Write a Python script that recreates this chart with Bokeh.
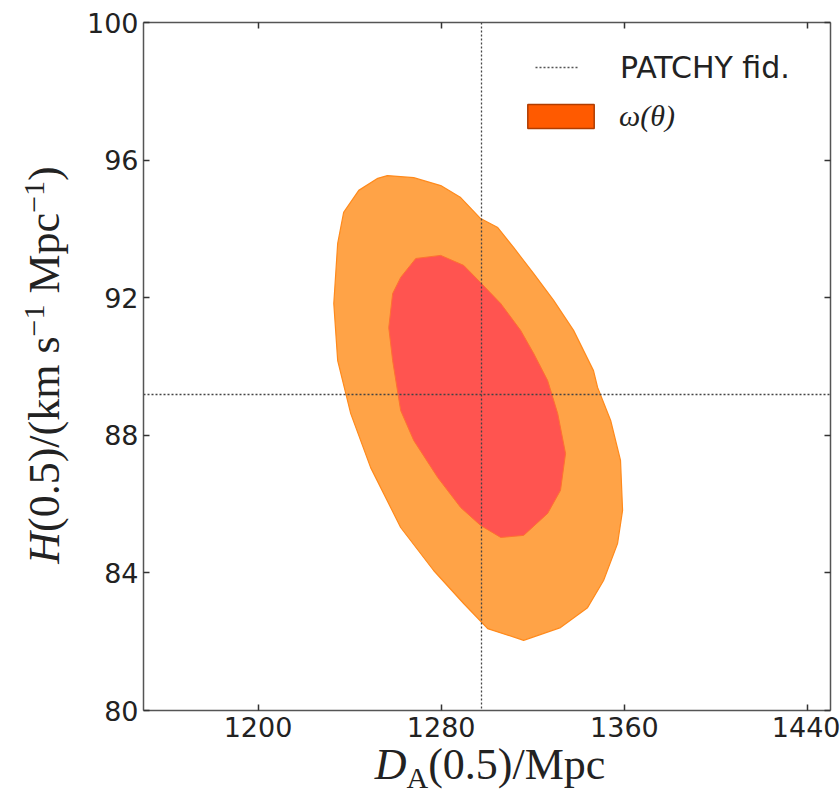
import math
from bokeh.plotting import figure
from bokeh.layouts import row, column
from bokeh.models import (Range1d, LinearAxis, FixedTicker, CustomJSTickFormatter,
                          Legend, LegendItem, Div)
from bokeh.embed import file_html
from bokeh.resources import INLINE

# ---------------- data ----------------
x_ticks = [1200, 1280, 1360, 1440]
y_ticks = [80, 84, 88, 92, 96, 100]

fid_DA = 1297.6
fid_H = 89.18

outer_DA = [1256.5, 1268.0, 1279.8, 1288.5, 1297.2, 1304.7, 1311.6, 1320.4, 1329.1, 1337.8,
            1346.5, 1348.3, 1354.0, 1358.3, 1359.2, 1357.0, 1350.9, 1343.9, 1332.1, 1316.0,
            1300.3, 1289.8, 1276.7, 1262.3, 1249.2, 1240.5, 1234.8, 1233.1, 1234.8, 1237.4,
            1244.0, 1252.3]
outer_H = [95.55, 95.49, 95.26, 94.91, 94.30, 94.04, 93.46, 92.70, 91.92, 91.05,
           89.88, 89.39, 88.43, 87.27, 85.82, 84.85, 83.78, 82.99, 82.41, 82.04,
           82.38, 83.11, 84.07, 85.32, 87.06, 88.63, 90.17, 91.83, 93.58, 94.48,
           95.12, 95.47]

inner_DA = [1268.9, 1279.8, 1289.8, 1297.2, 1306.0, 1314.7, 1320.4, 1326.5, 1330.9, 1334.3,
            1332.1, 1326.5, 1316.0, 1306.0, 1297.2, 1288.5, 1278.5, 1268.0, 1262.3, 1258.8,
            1257.1, 1258.8, 1262.3]
inner_H = [93.14, 93.23, 92.94, 92.44, 91.83, 91.05, 90.38, 89.59, 88.63, 87.47,
           86.40, 85.73, 85.09, 85.03, 85.38, 85.90, 86.77, 87.85, 88.72, 90.17,
           91.13, 92.12, 92.59]

legend_labels = ["PATCHY fid.", "ω(θ)"]

NAN = float("nan")

# ---------------- figure ----------------
p = figure(width=760, height=752, x_range=Range1d(1150, 1450), y_range=Range1d(80, 100),
           output_backend="svg", toolbar_location=None,
           min_border_left=63, min_border_right=10, min_border_top=22, min_border_bottom=42)
p.xgrid.visible = False
p.ygrid.visible = False
p.outline_line_color = None
p.background_fill_color = "white"
p.border_fill_color = "white"

AX_COLOR = "#555555"
TXT_COLOR = "#222222"


def style_axis(ax, ticks, show_labels):
    ax.ticker = FixedTicker(ticks=ticks)
    ax.axis_line_color = AX_COLOR
    ax.axis_line_width = 1.5
    ax.major_tick_in = 6
    ax.major_tick_out = 0
    ax.major_tick_line_color = "#333333"
    ax.major_tick_line_width = 1.5
    ax.minor_tick_line_color = None
    ax.major_label_text_font = "DejaVu Sans"
    ax.major_label_text_font_size = "27px"
    ax.major_label_text_color = TXT_COLOR
    ax.major_label_standoff = 6
    ax.axis_label_standoff = 0
    if not show_labels:
        ax.formatter = CustomJSTickFormatter(code="return ''")
        ax.major_label_standoff = 0


style_axis(p.xaxis[0], x_ticks, True)
style_axis(p.yaxis[0], y_ticks, True)
p.yaxis[0].major_label_standoff = 5
top_ax = LinearAxis()
right_ax = LinearAxis()
style_axis(top_ax, x_ticks, False)
style_axis(right_ax, y_ticks, False)
p.add_layout(top_ax, "above")
p.add_layout(right_ax, "right")

# ---------------- contours ----------------
p.patch(outer_DA, outer_H, fill_color="#ffa347", line_color="#ff8a1c", line_width=1.2)
p.patch(inner_DA, inner_H, fill_color="#ff5450", line_color="#ff7030", line_width=1.0)

# ---------------- fiducial lines ----------------
p.vspan(x=[fid_DA], line_color="#444444", line_dash="2 2", line_width=1.3)
p.hspan(y=[fid_H], line_color="#444444", line_dash="2 2", line_width=1.3)

# proxy renderers for the legend (NaN data: nothing drawn in the plot)
line_r = p.line(x=[NAN, NAN], y=[NAN, NAN], line_color="#555555", line_dash="2 2",
                line_width=1.3)
patch_r = p.quad(left=[NAN], right=[NAN], top=[NAN], bottom=[NAN], fill_color="#ff5a00",
                 line_color="#b03c00", line_width=1.5)

leg1 = Legend(items=[LegendItem(label=legend_labels[0], renderers=[line_r])],
              location=(392, 625), glyph_width=43, glyph_height=36, label_height=36,
              label_standoff=42, padding=0, margin=0, spacing=0,
              border_line_color=None, background_fill_alpha=0,
              label_text_font="DejaVu Sans", label_text_font_size="30px",
              label_text_color=TXT_COLOR)
leg2 = Legend(items=[LegendItem(label=legend_labels[1], renderers=[patch_r])],
              location=(376, 577), glyph_width=83, glyph_height=30, label_height=30,
              label_standoff=17, padding=0, margin=0, spacing=0,
              border_line_color=None, background_fill_alpha=0,
              label_text_font="Liberation Serif", label_text_font_style="italic",
              label_text_font_size="30px", label_text_color=TXT_COLOR)
p.add_layout(leg1)
p.add_layout(leg2)

# ---------------- axis titles (HTML text) ----------------
SUP = "font-size:30px;line-height:0;vertical-align:15px;"
SUB = "font-size:30px;line-height:0;vertical-align:-9px;"
BASE = ("white-space:nowrap;font-family:'Liberation Serif';font-size:44px;"
        "color:%s;text-align:center;" % TXT_COLOR)

y_title = ('<i>H</i>(0.5)/(km s<sup style="%s">\u22121</sup> Mpc'
           '<sup style="%s">\u22121</sup>)' % (SUP, SUP))
x_title = '<i>D</i><sub style="%s">A</sub>(0.5)/Mpc' % SUB

ydiv = Div(width=80, height=752, margin=0, text=(
    '<div style="position:relative;width:80px;height:752px;">'
    '<div style="position:absolute;left:23px;top:665px;width:600px;height:44px;'
    'line-height:44px;transform:rotate(-90deg);transform-origin:0 0;%s">%s</div></div>'
    % (BASE, y_title)))

xdiv = Div(width=840, height=42, margin=0, text=(
    '<div style="position:relative;width:840px;height:42px;">'
    '<div style="position:absolute;left:190px;top:-2px;width:600px;line-height:30px;%s">'
    '%s</div></div>' % (BASE, x_title)))

layout = column(row(ydiv, p, spacing=0), xdiv, spacing=0)

open("out.html", "w").write(file_html(layout, INLINE))
